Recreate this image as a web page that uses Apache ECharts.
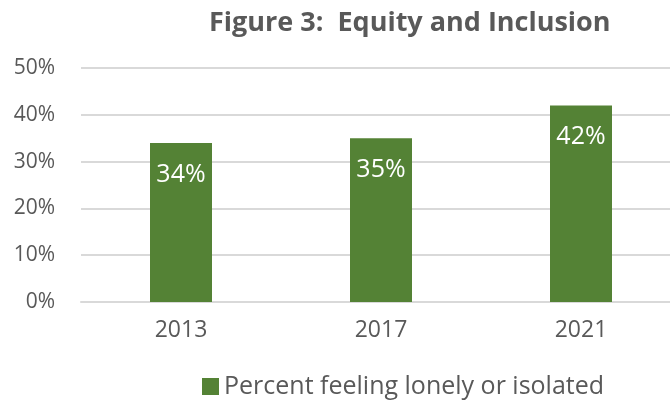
<!DOCTYPE html>
<html><head><meta charset="utf-8">
<script src="https://cdn.jsdelivr.net/npm/echarts@6/dist/echarts.min.js"></script>
<style>html,body{margin:0;padding:0;background:#fff}#c{width:670px;height:403px}</style>
</head><body><div id="c"></div>
<script>
const titleText = 'Figure 3:  Equity and Inclusion';
const categories = ['2013', '2017', '2021'];
const seriesName = 'Percent feeling lonely or isolated';
const values = [34, 35, 42];
const yTicks = [0, 10, 20, 30, 40, 50];

const FONT = '"Open Sans", sans-serif';
const chart = echarts.init(document.getElementById('c'));
chart.setOption({
  animation: false,
  backgroundColor: '#ffffff',
  title: {
    text: titleText, left: 204, top: 5,
    textStyle: { fontFamily: FONT, fontSize: 27, fontWeight: 'bold', color: '#595959' }
  },
  legend: {
    data: [seriesName], left: 197, top: 369,
    itemWidth: 17, itemHeight: 17, itemGap: 9,
    icon: 'rect',
    textStyle: { fontFamily: FONT, fontSize: 25, color: '#595959' }
  },
  grid: { left: 81, right: -11, top: 68, bottom: 101, containLabel: false, outerBoundsMode: 'none' },
  xAxis: {
    type: 'category', data: categories,
    axisLine: { lineStyle: { color: '#d9d9d9', width: 2 } },
    axisTick: { show: false },
    axisLabel: { fontFamily: FONT, fontSize: 23, color: '#595959', margin: 17 }
  },
  yAxis: {
    type: 'value', min: yTicks[0], max: yTicks[yTicks.length - 1], interval: 10,
    axisLine: { show: false }, axisTick: { show: false },
    splitLine: { lineStyle: { color: '#d9d9d9', width: 2 } },
    axisLabel: { fontFamily: FONT, fontSize: 21, color: '#595959', margin: 26, formatter: v => v + '%' }
  },
  series: [{
    name: seriesName, type: 'bar', data: values, barWidth: 62,
    itemStyle: { color: '#548235' },
    label: {
      show: true, position: 'insideTop', distance: 19,
      fontFamily: FONT, fontSize: 25, color: '#ffffff', formatter: p => p.value + '%'
    }
  }]
});
</script></body></html>
